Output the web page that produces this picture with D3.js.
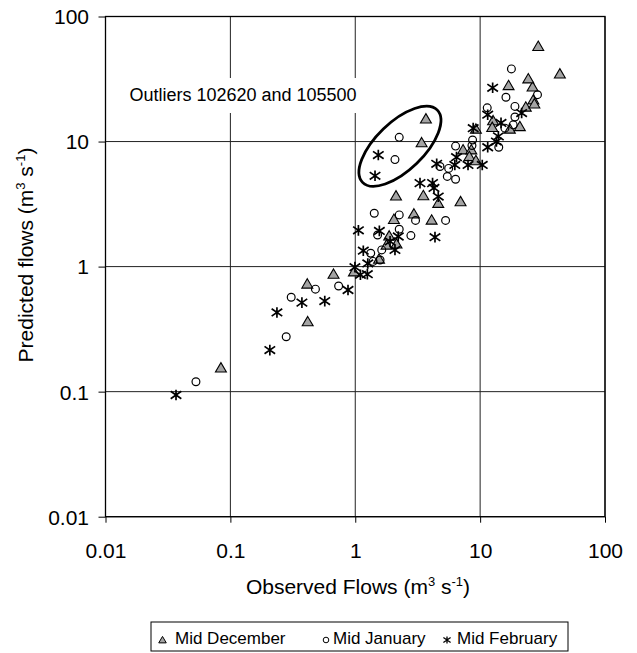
<!DOCTYPE html>
<html><head><meta charset="utf-8">
<script src="https://cdn.jsdelivr.net/npm/d3@7"></script>
<style>body{margin:0;background:#fff} svg{display:block;font-family:"Liberation Sans",Arial,sans-serif}</style>
</head><body><svg id="c" width="637" height="653"></svg>
<script>
const tickValues = [0.01, 0.1, 1, 10, 100];
const tickLabels = ["0.01", "0.1", "1", "10", "100"];
const seriesNames = ["Mid December", "Mid January", "Mid February"];
const midDecember = [[0.084,0.155],[0.416,0.363],[0.413,0.727],[0.67,0.87],[0.976,0.91],[1.55,1.15],[1.78,1.49],[2.14,1.52],[1.87,1.76],[2.04,2.39],[2.95,2.64],[4.09,2.36],[2.12,3.68],[3.51,3.70],[4.62,3.21],[6.97,3.31],[3.68,15.2],[3.40,9.8],[7.3,8.6],[8.5,8.6],[9.25,12.6],[8.2,7.6],[9.25,7.05],[12.7,14.7],[12.5,13.0],[17.3,12.6],[20.8,13.2],[23.2,18.9],[26.7,21.6],[27.2,20.0],[26.3,27.4],[24.3,31.8],[16.9,28.1],[29.2,57.8],[43.5,34.8]];
const midJanuary = [[0.053,0.12],[0.28,0.275],[0.307,0.569],[0.48,0.66],[0.736,0.70],[1.39,1.10],[1.58,1.13],[1.33,1.28],[1.63,1.36],[2.79,1.77],[1.51,1.79],[1.42,2.67],[2.25,2.59],[2.25,1.99],[3.04,2.34],[5.29,2.34],[5.46,5.26],[6.36,5.0],[4.77,6.31],[5.6,6.1],[2.08,7.17],[2.25,10.8],[6.36,9.2],[8.7,10.3],[8.6,9.3],[14.1,9.0],[11.4,18.6],[16.1,22.6],[17.8,38.1],[28.8,23.7],[19.0,19.1],[19.0,15.7],[15.8,12.8],[18.4,13.6]];
const midFebruary = [[0.0367,0.094],[0.207,0.215],[0.236,0.43],[0.374,0.515],[0.57,0.53],[0.875,0.65],[0.994,0.99],[1.10,0.86],[1.25,0.87],[1.26,1.06],[1.16,1.34],[1.90,1.59],[2.08,1.36],[2.21,1.74],[4.35,1.72],[1.56,1.93],[1.06,1.95],[3.30,4.65],[4.16,4.65],[4.62,3.63],[4.49,6.64],[6.27,6.5],[8.0,6.5],[6.47,7.5],[1.53,7.8],[1.44,5.32],[12.6,26.9],[21.5,16.9],[11.5,16.4],[14.7,14.1],[14.0,11.0],[13.5,10.0],[11.5,9.0],[8.8,12.8],[10.4,6.5],[4.27,4.26]];
const outlierLabel = "Outliers 102620 and 105500";
const outlierCentre = [2.28, 9.17];

const svg = d3.select("#c");
const x = d3.scaleLog().domain([0.01, 100]).range([105.5, 605]);
const y = d3.scaleLog().domain([0.01, 100]).range([516.7, 16.5]);

// gridlines
svg.append("g").selectAll("line").data(tickValues).join("line")
  .attr("x1", d => x(d)).attr("x2", d => x(d)).attr("y1", y(100)).attr("y2", y(0.01))
  .attr("stroke", "#222").attr("stroke-width", 1);
svg.append("g").selectAll("line").data(tickValues).join("line")
  .attr("y1", d => y(d)).attr("y2", d => y(d)).attr("x1", x(0.01)).attr("x2", x(100))
  .attr("stroke", "#222").attr("stroke-width", 1);

// axes
const xa = svg.append("g").attr("transform", `translate(0,${y(0.01)})`)
  .call(d3.axisBottom(x).tickValues(tickValues).tickFormat((d, i) => tickLabels[i]).tickSize(6).tickSizeOuter(0));
xa.select(".domain").remove();
xa.selectAll("text").attr("y", 41).attr("dy", 0).attr("font-size", 21).attr("fill", "#000").attr("font-family", "Liberation Sans, Arial, sans-serif");
const ya = svg.append("g").attr("transform", `translate(${x(0.01)},0)`)
  .call(d3.axisLeft(y).tickValues(tickValues).tickFormat((d, i) => tickLabels[i]).tickSize(7).tickSizeOuter(0));
ya.select(".domain").remove();
ya.selectAll("text").attr("x", -16.5).attr("dy", "0.35em").attr("font-size", 21).attr("fill", "#000").attr("font-family", "Liberation Sans, Arial, sans-serif");

// frame
svg.append("rect").attr("x", x(0.01)).attr("y", y(100)).attr("width", x(100) - x(0.01)).attr("height", y(0.01) - y(100))
  .attr("fill", "none").attr("stroke", "#000").attr("stroke-width", 1.3);

// annotation box + text
svg.append("rect").attr("x", 124).attr("y", 78).attr("width", 238).attr("height", 35).attr("fill", "#fff");
svg.append("text").attr("x", 243).attr("y", 101).attr("text-anchor", "middle").attr("font-size", 18).text(outlierLabel);

// ellipse
svg.append("ellipse").attr("cx", 0).attr("cy", 0).attr("rx", 52).attr("ry", 24)
  .attr("transform", `translate(${x(outlierCentre[0])},${y(outlierCentre[1])}) rotate(-44)`)
  .attr("fill", "none").attr("stroke", "#000").attr("stroke-width", 2.8);

// markers
function triPath(s) { return `M0,${-s} L${s*1.05},${s*0.8} L${-s*1.05},${s*0.8} Z`; }
function starPath(s) { return `M0,${-s} L0,${s} M${-s},${-s*0.7} L${s},${s*0.7} M${-s},${s*0.7} L${s},${-s*0.7}`; }

svg.append("g").selectAll("path").data(midDecember).join("path")
  .attr("d", triPath(5.2)).attr("transform", d => `translate(${x(d[0])},${y(d[1])})`)
  .attr("fill", "#a4a4a4").attr("stroke", "#000").attr("stroke-width", 1.1);
svg.append("g").selectAll("circle").data(midJanuary).join("circle")
  .attr("cx", d => x(d[0])).attr("cy", d => y(d[1])).attr("r", 3.9)
  .attr("fill", "none").attr("stroke", "#000").attr("stroke-width", 1.2);
svg.append("g").selectAll("path").data(midFebruary).join("path")
  .attr("d", starPath(5.3)).attr("transform", d => `translate(${x(d[0])},${y(d[1])})`)
  .attr("fill", "none").attr("stroke", "#000").attr("stroke-width", 1.7);

// axis titles
const xt = svg.append("text").attr("x", 358).attr("y", 594).attr("text-anchor", "middle").attr("font-size", 21);
xt.append("tspan").text("Observed Flows (m");
xt.append("tspan").attr("dy", -8).attr("font-size", 13).text("3");
xt.append("tspan").attr("dy", 8).text(" s");
xt.append("tspan").attr("dy", -8).attr("font-size", 13).text("-1");
xt.append("tspan").attr("dy", 8).text(")");

const yt = svg.append("text").attr("transform", "translate(33,255) rotate(-90)").attr("text-anchor", "middle").attr("font-size", 21);
yt.append("tspan").text("Predicted flows (m");
yt.append("tspan").attr("dy", -8).attr("font-size", 13).text("3");
yt.append("tspan").attr("dy", 8).text(" s");
yt.append("tspan").attr("dy", -8).attr("font-size", 13).text("-1");
yt.append("tspan").attr("dy", 8).text(")");

// legend
const lg = svg.append("g");
lg.append("rect").attr("x", 151).attr("y", 622).attr("width", 417).attr("height", 29)
  .attr("fill", "#fff").attr("stroke", "#000").attr("stroke-width", 1);
const legendX = [162.5, 326, 447];
const legendTextX = [175, 333, 457];
lg.append("path").attr("d", triPath(3.6)).attr("transform", `translate(${legendX[0]},640)`)
  .attr("fill", "#a4a4a4").attr("stroke", "#000").attr("stroke-width", 1);
lg.append("circle").attr("cx", legendX[1]).attr("cy", 640).attr("r", 2.8)
  .attr("fill", "none").attr("stroke", "#000").attr("stroke-width", 1);
lg.append("path").attr("d", starPath(3.6)).attr("transform", `translate(${legendX[2]},640)`)
  .attr("fill", "none").attr("stroke", "#000").attr("stroke-width", 1.3);
lg.selectAll("text").data(seriesNames).join("text")
  .attr("x", (d, i) => legendTextX[i]).attr("y", 644).attr("font-size", 17).text(d => d);
</script></body></html>
